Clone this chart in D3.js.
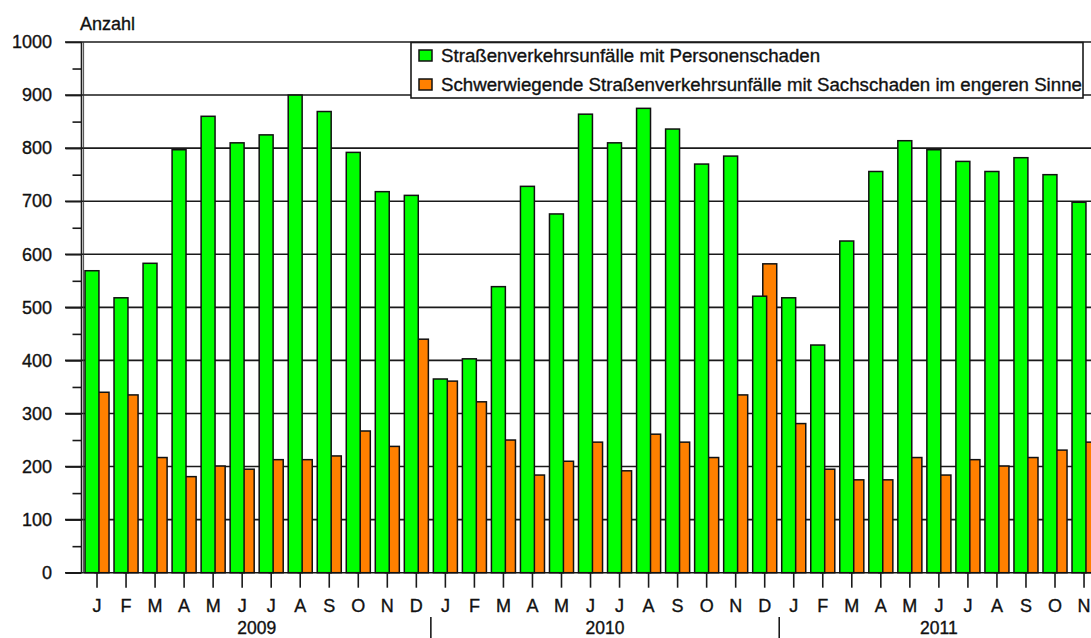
<!DOCTYPE html>
<html><head><meta charset="utf-8">
<script src="https://cdn.jsdelivr.net/npm/d3@7"></script>
<style>
body{margin:0;background:#fff}
svg{display:block}
text{font-family:"Liberation Sans",Arial,sans-serif;fill:#111;stroke:#111;stroke-width:0.35px}
</style>
</head><body><svg id="c" width="1091" height="638"></svg>
<script>
const monthLabels = ["J","F","M","A","M","J","J","A","S","O","N","D",
                     "J","F","M","A","M","J","J","A","S","O","N","D",
                     "J","F","M","A","M","J","J","A","S","O","N"];
const years = ["2009","2010","2011"];
const monthsPerYear = [12,12,11];
const personenschaden = [569,518,583,797,860,810,825,900,869,792,718,711,
                         365,403,539,728,676,864,810,875,836,770,785,521,
                         518,429,625,756,814,797,775,756,782,750,698];
const sachschaden = [340,335,217,181,201,195,213,213,220,267,238,440,
                     361,322,250,184,210,246,192,261,246,217,335,582,
                     281,195,175,175,217,184,213,201,217,231,246];
const yTicks = [0,100,200,300,400,500,600,700,800,900,1000];
const yMinorTicks = [50,150,250,350,450,550,650,750,850,950];
const seriesNames = ["Straßenverkehrsunfälle mit Personenschaden",
                     "Schwerwiegende Straßenverkehrsunfälle mit Sachschaden im engeren Sinne"];
const seriesColors = ["#00ff00","#ff8000"];

const svg = d3.select("#c");
const W = 1091;
const x = d3.scaleBand().domain(d3.range(monthLabels.length))
  .range([82.5, 82.5 + 29.03*monthLabels.length]).paddingInner(0.172).paddingOuter(0.086);
const y = d3.scaleLinear().domain([0,1000]).range([572.7,42]);
const axisX = 81.5;

// gridlines
svg.append("g").selectAll("line").data(yTicks).join("line")
  .attr("x1", 65).attr("x2", W).attr("y1", d=>y(d)).attr("y2", d=>y(d))
  .attr("stroke","#1a1a1a").attr("stroke-width",1.6);

// y axis
const ya = svg.append("g").attr("transform",`translate(${axisX},0)`)
  .call(d3.axisLeft(y).tickValues(yTicks).tickSize(16).tickPadding(13.5).tickFormat(d3.format("d")));
ya.select(".domain").remove();
ya.selectAll(".tick line").attr("stroke","#1a1a1a").attr("stroke-width",1.6);
ya.selectAll("text").style("font-size","18px").attr("fill","#111");
const ym = svg.append("g").attr("transform",`translate(${axisX},0)`)
  .call(d3.axisLeft(y).tickValues(yMinorTicks).tickSize(9).tickFormat(""));
ym.select(".domain").remove();
ym.selectAll(".tick line").attr("stroke","#1a1a1a").attr("stroke-width",1.6);
svg.append("line").attr("x1",axisX).attr("x2",axisX).attr("y1",y(1000)).attr("y2",y(0))
  .attr("stroke","#1a1a1a").attr("stroke-width",1.6);
svg.append("line").attr("x1",83.6).attr("x2",83.6).attr("y1",y(1000)).attr("y2",y(0))
  .attr("stroke","#333").attr("stroke-width",0.9);

svg.append("text").attr("x",80).attr("y",30).style("font-size","18px").text("Anzahl");

// bars
const bw = x.bandwidth();
const barW = bw*0.58;
const bars = svg.append("g");
bars.selectAll("rect.s").data(sachschaden).join("rect").attr("class","s")
  .attr("x",(d,i)=>x(i)+bw-barW).attr("width",barW)
  .attr("y",d=>y(d)).attr("height",d=>y(0)-y(d))
  .attr("fill",seriesColors[1]).attr("stroke","#111").attr("stroke-width",1.5);
bars.selectAll("rect.p").data(personenschaden).join("rect").attr("class","p")
  .attr("x",(d,i)=>x(i)).attr("width",barW)
  .attr("y",d=>y(d)).attr("height",d=>y(0)-y(d))
  .attr("fill",seriesColors[0]).attr("stroke","#111").attr("stroke-width",1.5);

// x axis
const xa = svg.append("g").attr("transform",`translate(0,${y(0)})`)
  .call(d3.axisBottom(x).tickSize(15).tickPadding(12).tickFormat(i=>monthLabels[i]));
xa.select(".domain").remove();
xa.selectAll(".tick line").attr("stroke","#1a1a1a").attr("stroke-width",1.6);
xa.selectAll("text").style("font-size","18px").attr("fill","#111");

// year labels and separators
let start = 0;
years.forEach((yr,k)=>{
  const end = start + monthsPerYear[k];
  const x0 = x(start) - x.step()*x.paddingOuter();
  const x1 = x0 + x.step()*monthsPerYear[k];
  svg.append("text").attr("x",(x0+x1)/2).attr("y",634).attr("text-anchor","middle")
    .style("font-size","17.5px").text(yr);
  if (k>0) svg.append("line").attr("x1",x0).attr("x2",x0).attr("y1",617).attr("y2",638)
    .attr("stroke","#1a1a1a").attr("stroke-width",1.6);
  start = end;
});

// legend
const lg = svg.append("g");
lg.append("rect").attr("x",411).attr("y",42.5).attr("width",672).attr("height",55.5)
  .attr("fill","#fff").attr("stroke","#1a1a1a").attr("stroke-width",1.6);
seriesNames.forEach((n,i)=>{
  lg.append("rect").attr("x",419).attr("y",50+i*29).attr("width",13).attr("height",11)
    .attr("fill",seriesColors[i]).attr("stroke","#111").attr("stroke-width",1.5);
  lg.append("text").attr("x",441).attr("y",62+i*29).style("font-size","18.7px").text(n);
});
</script>
</body></html>
